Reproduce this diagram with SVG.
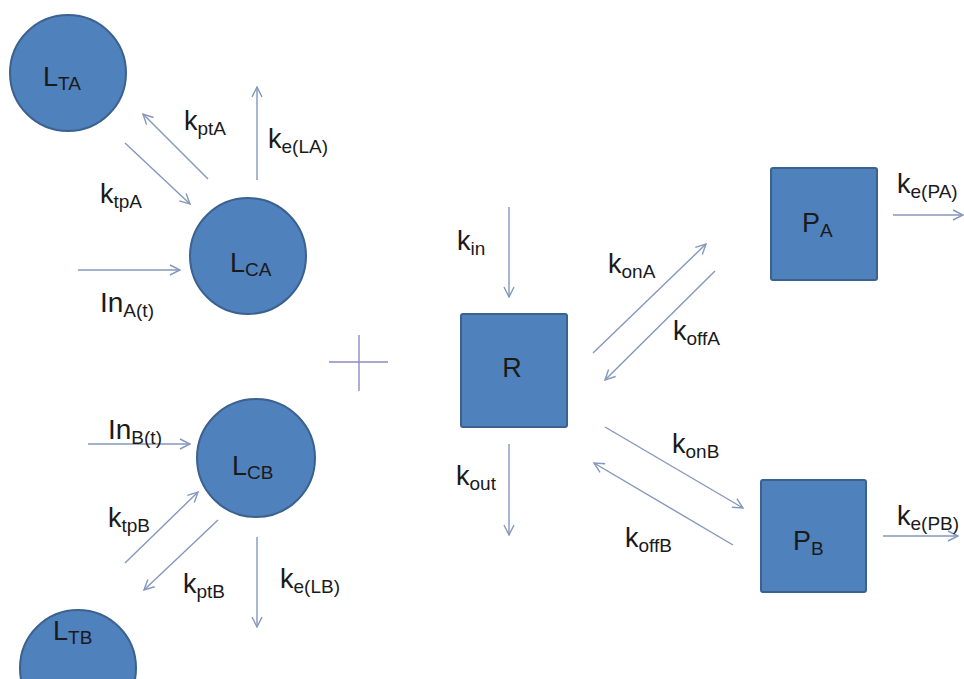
<svg xmlns="http://www.w3.org/2000/svg" width="964" height="679" viewBox="0 0 964 679">
<defs>
<style>
.node{fill:#4f81bd;stroke:#3b618f;stroke-width:2}
.lbl{font-family:"Liberation Sans",Arial,sans-serif;font-size:27px;fill:#1a1a1a}
.sub{font-size:19px}
.big{font-size:28px}
.edge{stroke:#8497bd;stroke-width:1.4;fill:none;marker-end:url(#ah)}
.plus{stroke:#8a8ac4;stroke-width:1.4}
</style>
<marker id="ah" viewBox="0 0 12 12" refX="11" refY="6" markerWidth="12" markerHeight="12" markerUnits="userSpaceOnUse" orient="auto">
<path d="M1,1 L11,6 L1,11" fill="none" stroke="#8497bd" stroke-width="1.4"/>
</marker>
</defs>
<rect width="964" height="679" fill="#ffffff"/>

<g id="connectors">
<line class="edge" x1="208" y1="179" x2="143" y2="114"/>
<line class="edge" x1="125" y1="143" x2="190" y2="204"/>
<line class="edge" x1="257" y1="180" x2="257" y2="87"/>
<line class="edge" x1="78" y1="270" x2="180" y2="270"/>
<line class="edge" x1="88" y1="444" x2="190" y2="444"/>
<line class="edge" x1="125" y1="563" x2="198" y2="492"/>
<line class="edge" x1="218" y1="520" x2="144" y2="590"/>
<line class="edge" x1="257" y1="537" x2="257" y2="627"/>
<line class="edge" x1="509" y1="207" x2="509" y2="297"/>
<line class="edge" x1="593" y1="353" x2="706" y2="244"/>
<line class="edge" x1="715" y1="271" x2="605" y2="380"/>
<line class="edge" x1="605" y1="427" x2="743" y2="508"/>
<line class="edge" x1="733" y1="545" x2="594" y2="463"/>
<line class="edge" x1="509" y1="444" x2="509" y2="535"/>
<line class="edge" x1="893" y1="215" x2="963" y2="215"/>
<line class="edge" x1="883" y1="536" x2="958" y2="536"/>
</g>

<g id="plus">
<line class="plus" x1="329" y1="362" x2="388" y2="362"/>
<line class="plus" x1="359" y1="335" x2="359" y2="391"/>
</g>

<g id="LTA">
<circle class="node" cx="68" cy="73" r="58"/>
<text class="lbl" x="43" y="86">L<tspan class="sub" dy="4">TA</tspan></text>
</g>
<g id="LCA">
<circle class="node" cx="248" cy="256" r="58"/>
<text class="lbl" x="230" y="272">L<tspan class="sub" dy="4">CA</tspan></text>
</g>
<g id="LCB">
<circle class="node" cx="256" cy="458" r="59"/>
<text class="lbl" x="232" y="475">L<tspan class="sub" dy="4">CB</tspan></text>
</g>
<g id="LTB">
<circle class="node" cx="78" cy="668" r="58"/>
<text class="lbl" x="53" y="640">L<tspan class="sub" dy="4">TB</tspan></text>
</g>
<g id="R">
<rect class="node" x="461" y="314" width="106" height="113" rx="2"/>
<text class="lbl" x="512" y="377" text-anchor="middle">R</text>
</g>
<g id="PA">
<rect class="node" x="771" y="168" width="106" height="112" rx="2"/>
<text class="lbl" x="802" y="232">P<tspan class="sub" dy="5">A</tspan></text>
</g>
<g id="PB">
<rect class="node" x="761" y="480" width="105" height="112" rx="2"/>
<text class="lbl" x="793" y="550">P<tspan class="sub" dy="5">B</tspan></text>
</g>

<g id="labels">
<text class="lbl" x="184" y="130">k<tspan class="sub" dy="5">ptA</tspan></text>
<text class="lbl" x="268" y="148">k<tspan class="sub" dy="5">e(LA)</tspan></text>
<text class="lbl" x="100" y="203">k<tspan class="sub" dy="5">tpA</tspan></text>
<text class="lbl big" x="100" y="312">In<tspan class="sub" dy="5">A(t)</tspan></text>
<text class="lbl big" x="108" y="439">In<tspan class="sub" dy="5">B(t)</tspan></text>
<text class="lbl" x="108" y="527">k<tspan class="sub" dy="5">tpB</tspan></text>
<text class="lbl" x="183" y="593">k<tspan class="sub" dy="5">ptB</tspan></text>
<text class="lbl" x="280" y="588">k<tspan class="sub" dy="5">e(LB)</tspan></text>
<text class="lbl" x="457" y="250">k<tspan class="sub" dy="5">in</tspan></text>
<text class="lbl" x="608" y="273">k<tspan class="sub" dy="5">onA</tspan></text>
<text class="lbl" x="673" y="340">k<tspan class="sub" dy="5">offA</tspan></text>
<text class="lbl" x="897" y="193">k<tspan class="sub" dy="5">e(PA)</tspan></text>
<text class="lbl" x="672" y="453">k<tspan class="sub" dy="5">onB</tspan></text>
<text class="lbl" x="456" y="485">k<tspan class="sub" dy="5">out</tspan></text>
<text class="lbl" x="625" y="547">k<tspan class="sub" dy="5">offB</tspan></text>
<text class="lbl" x="897" y="525">k<tspan class="sub" dy="5">e(PB)</tspan></text>
</g>
</svg>
